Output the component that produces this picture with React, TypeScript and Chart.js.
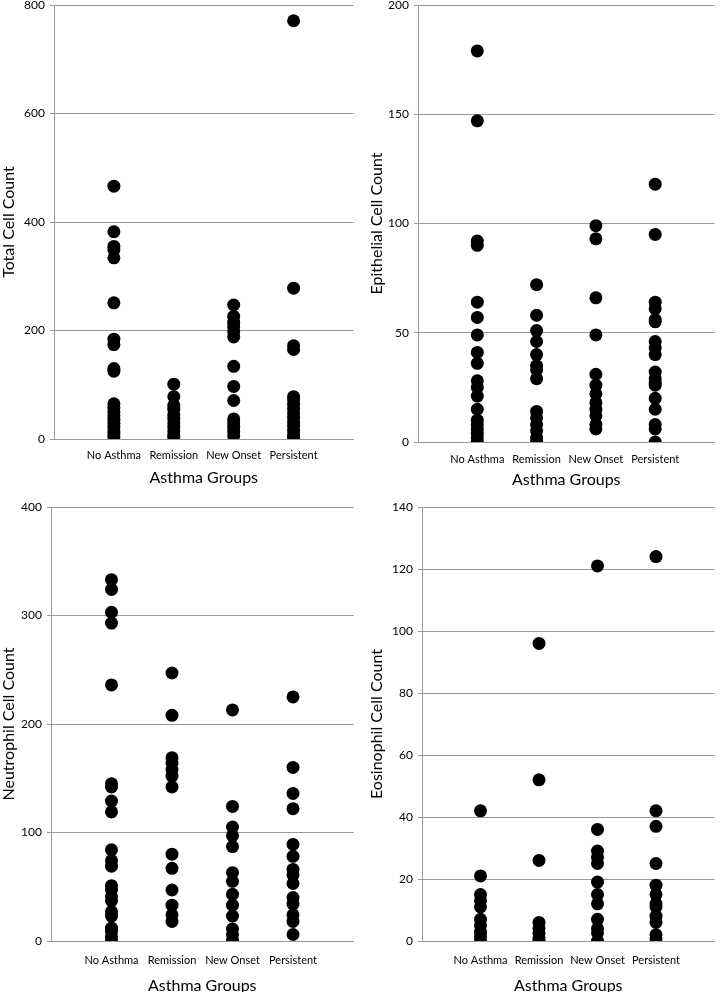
import React, { useEffect, useRef } from 'react';
import { Chart, registerables } from 'chart.js';

Chart.register(...registerables);

const categories = ['No Asthma', 'Remission', 'New Onset', 'Persistent'];
const xAxisTitle = 'Asthma Groups';

// Total Cell Count
const totalNoAsthma = [466, 382, 355, 349, 334, 251, 184, 174, 130, 125, 65, 57, 50, 43, 36, 29, 22, 15, 9, 4];
const totalRemission = [101, 78, 62, 55, 45, 38, 30, 22, 15, 8, 4];
const totalNewOnset = [247, 226, 215, 207, 198, 188, 134, 97, 71, 37, 30, 22, 14, 6];
const totalPersistent = [771, 278, 172, 165, 78, 72, 64, 56, 48, 40, 32, 24, 16, 8, 3];

// Epithelial Cell Count
const epiNoAsthma = [179, 147, 92, 90, 64, 57, 49, 41, 36, 28, 25, 21, 15, 10, 8, 6, 4, 2, 0];
const epiRemission = [72, 58, 51, 46, 40, 35, 33, 29, 14, 11, 8, 5, 2, 0];
const epiNewOnset = [99, 93, 66, 49, 31, 26, 22, 18, 15, 12, 8, 6];
const epiPersistent = [118, 95, 64, 61, 56, 55, 46, 43, 40, 32, 29, 27, 26, 20, 15, 8, 6, 0];

// Neutrophil Cell Count
const neuNoAsthma = [333, 324, 303, 293, 236, 145, 142, 129, 119, 84, 74, 69, 51, 47, 41, 37, 27, 23, 12, 9, 4, 0];
const neuRemission = [247, 208, 169, 164, 158, 152, 142, 80, 67, 47, 33, 24, 18];
const neuNewOnset = [213, 124, 105, 97, 87, 63, 55, 43, 33, 23, 11, 6, 1];
const neuPersistent = [225, 160, 136, 122, 89, 78, 66, 61, 53, 40, 34, 24, 18, 6];

// Eosinophil Cell Count
const eosNoAsthma = [42, 21, 15, 13, 11, 7, 5, 3, 1.5, 0];
const eosRemission = [96, 52, 26, 6, 4, 2.6, 1, 0];
const eosNewOnset = [121, 36, 29, 27, 25, 19, 15, 12, 7, 4, 2.6, 0];
const eosPersistent = [124, 42, 37, 25, 18, 15, 12, 11, 8, 6, 2, 0.5];

const panelTitles = ['Total Cell Count', 'Epithelial Cell Count', 'Neutrophil Cell Count', 'Eosinophil Cell Count'];
const panelMax = [800, 200, 400, 140];
const panelStep = [200, 50, 100, 20];
const panelGroups = [
  [totalNoAsthma, totalRemission, totalNewOnset, totalPersistent],
  [epiNoAsthma, epiRemission, epiNewOnset, epiPersistent],
  [neuNoAsthma, neuRemission, neuNewOnset, neuPersistent],
  [eosNoAsthma, eosRemission, eosNewOnset, eosPersistent],
];

// layout (page coordinates)
type Layout = { px: number; py: number; W: number; H: number; L: number; T: number; R: number; B: number; padLeft: number; padBottom: number; tickPad: number };
const layouts: Layout[] = [
  { px: -10, py: -15, W: 370, H: 507, L: 54, T: 5, R: 359, B: 439, padLeft: 9, padBottom: 5, tickPad: 10 },
  { px: 350, py: -15, W: 371, H: 507, L: 418, T: 5, R: 720, B: 442, padLeft: 17, padBottom: 3, tickPad: 11 },
  { px: -10, py: 492, W: 370, H: 508, L: 51, T: 507, R: 356, B: 941, padLeft: 9, padBottom: 5, tickPad: 13 },
  { px: 350, py: 492, W: 371, H: 508, L: 422, T: 507, R: 720, B: 941, padLeft: 17, padBottom: 5, tickPad: 13 },
];

const FONT = 'Lato, "Open Sans", sans-serif';
const GRID = '#9a9a9a';

function Panel({ idx }: { idx: number }) {
  const ref = useRef<HTMLCanvasElement>(null);
  useEffect(() => {
    const lay = layouts[idx];
    const groups = panelGroups[idx];
    const pts: { x: number; y: number }[] = [];
    groups.forEach((arr, gi) => arr.forEach((v) => pts.push({ x: gi + 1, y: v })));
    const yw = lay.L - lay.px - lay.padLeft;
    const padTop = lay.T - lay.py;
    const padRight = lay.px + lay.W - lay.R;
    const xh = lay.py + lay.H - lay.padBottom - lay.B;
    const chart = new Chart(ref.current!, {
      type: 'scatter',
      data: {
        datasets: [
          {
            data: pts,
            backgroundColor: '#000',
            borderColor: '#000',
            pointRadius: 6.5,
            pointHoverRadius: 6.5,
            borderWidth: 0,
          },
        ],
      },
      options: {
        animation: false,
        responsive: false,
        events: [],
        layout: { padding: { left: lay.padLeft, top: padTop, right: padRight, bottom: lay.padBottom } },
        plugins: { legend: { display: false }, tooltip: { enabled: false } },
        scales: {
          x: {
            type: 'linear',
            min: 0,
            max: 5,
            afterBuildTicks: (s: any) => {
              s.ticks = [0, 1, 2, 3, 4, 5].map((v) => ({ value: v }));
            },
            ticks: {
              autoSkip: false,
              maxRotation: 0,
              padding: lay.tickPad,
              color: '#000',
              font: { family: FONT, size: 11, lineHeight: 1.2 },
              callback: (v: any) => categories[Number(v) - 1] ?? '',
            },
            grid: { display: false, drawTicks: false },
            border: { display: true, color: GRID, width: 1 },
            title: {
              display: true,
              text: xAxisTitle,
              color: '#000',
              font: { family: FONT, size: 16, lineHeight: 1.2 },
              padding: { top: 0, bottom: 0 },
            },
            afterFit: (s: any) => {
              s.height = xh;
              s.paddingLeft = 0;
              s.paddingRight = 0;
            },
          },
          y: {
            min: 0,
            max: panelMax[idx],
            ticks: {
              stepSize: panelStep[idx],
              padding: 5,
              color: '#000',
              font: { family: FONT, size: 12 },
            },
            grid: { color: GRID, lineWidth: 1, tickLength: 4, drawTicks: true },
            border: { display: true, color: GRID, width: 1 },
            title: {
              display: true,
              text: panelTitles[idx],
              color: '#000',
              font: { family: FONT, size: 16, lineHeight: 1.2 },
              padding: { top: 0, bottom: 0 },
            },
            afterFit: (s: any) => {
              s.width = yw;
              s.paddingTop = 0;
              s.paddingBottom = 0;
            },
          },
        },
      },
    } as any);
    return () => chart.destroy();
  }, [idx]);
  const lay = layouts[idx];
  return (
    <canvas
      ref={ref}
      width={lay.W}
      height={lay.H}
      style={{ position: 'absolute', left: lay.px, top: lay.py, width: lay.W, height: lay.H }}
    />
  );
}

export default function App() {
  return (
    <div
      style={{
        position: 'absolute',
        left: 0,
        top: 0,
        width: 721,
        height: 992,
        overflow: 'hidden',
        background: '#fff',
      }}
    >
      {[0, 1, 2, 3].map((i) => (
        <Panel key={i} idx={i} />
      ))}
    </div>
  );
}
